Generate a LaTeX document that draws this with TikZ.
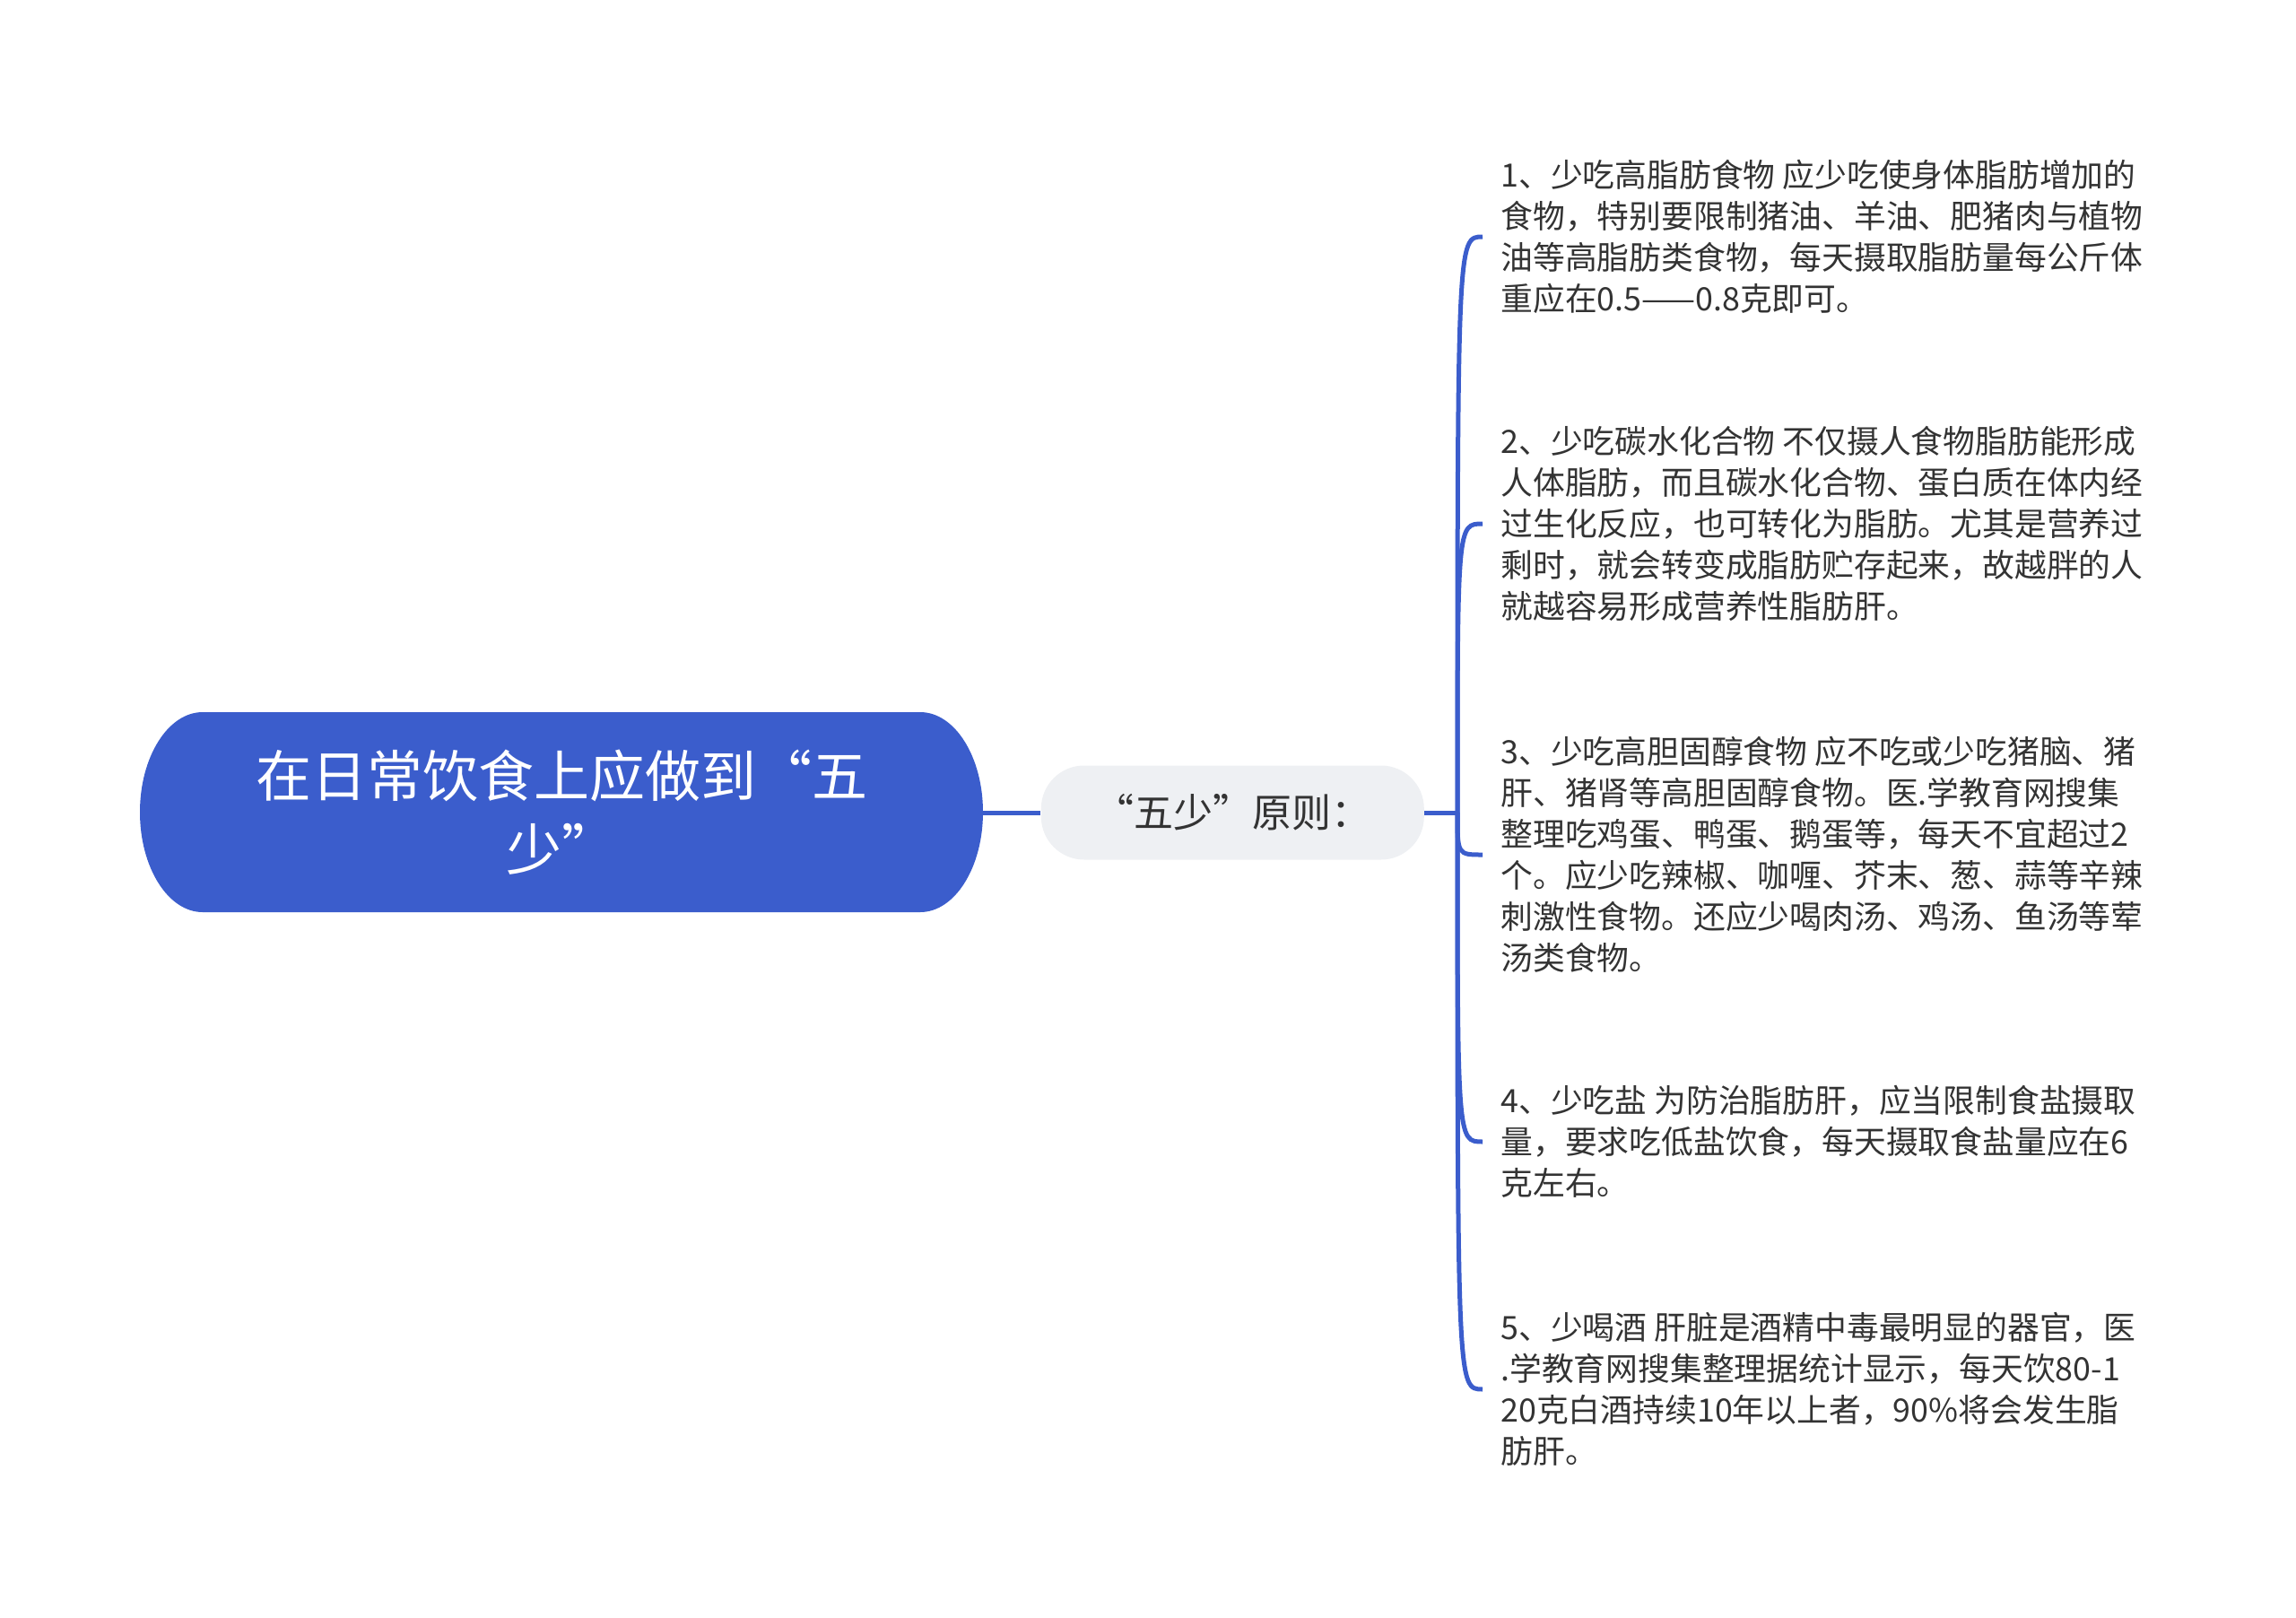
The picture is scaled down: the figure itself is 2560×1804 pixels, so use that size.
\documentclass[tikz,border=0pt]{standalone}
\usepackage{fontspec}
\setmainfont{Noto Sans CJK SC}
\usetikzlibrary{positioning}
\definecolor{rootblue}{RGB}{59,93,204}
\definecolor{midgray}{RGB}{238,240,243}
\definecolor{leaftext}{RGB}{51,51,51}

\begin{document}
\begin{tikzpicture}[x=0.5pt,y=-0.5pt]

  \tikzset{root node/.style={rectangle, text=white, minimum width=470pt,
  		minimum height=111.5pt, align=center, font=\fontsize{31}{41}\selectfont}, }
  \tikzset{mid node/.style={rectangle, fill=midgray, text=leaftext, rounded corners=24pt,
  		minimum width=213.5pt, minimum height=52.5pt, font=\fontsize{22}{28}\selectfont}, }
  \tikzset{leaf node/.style={anchor=west, align=left, text=leaftext, inner xsep=10pt,
  		font=\fontsize{17.9}{23}\selectfont}, }
  \tikzset{linea/.style={draw=rootblue, line width=2.5pt}, }
  \useasboundingbox (0,0) rectangle (2560,1804);
    % root shape, elliptic ends
    \fill[rootblue] (226,794) -- (1026,794) arc[start angle=-90, end angle=90, x radius=70, y radius=111.5]
      -- (226,1017) arc[start angle=90, end angle=270, x radius=70, y radius=111.5] -- cycle;
    \node[root node] (root) at (626,906) {在日常饮食上应做到“五\\少”};
    \node[mid node] (mid) [right =32pt of root] {“五少”原则：};
    \coordinate (trunk) at (1625,906);

    \node[leaf node] (l1) at (1653,264) {1、少吃高脂肪食物 应少吃使身体脂肪增加的\\食物，特别要限制猪油、羊油、肥猪肉与植物\\油等高脂肪类食物，每天摄取脂肪量每公斤体\\重应在0.5——0.8克即可。};
    \node[leaf node] (l2) at (1653,584) {2、少吃碳水化合物 不仅摄人食物脂肪能形成\\人体脂肪，而且碳水化合物、蛋白质在体内经\\过生化反应，也可转化为脂肪。尤其是营养过\\剩时，就会转变成脂肪贮存起来，故越胖的人\\就越容易形成营养性脂肪肝。};
    \node[leaf node] (l3) at (1653,953) {3、少吃高胆固醇食物 应不吃或少吃猪脑、猪\\肝、猪肾等高胆固醇食物。医.学教育网搜集\\整理吃鸡蛋、鸭蛋、鹅蛋等，每天不宜超过2\\个。应少吃辣椒、咖喱、芥末、葱、蒜等辛辣\\刺激性食物。还应少喝肉汤、鸡汤、鱼汤等荤\\汤类食物。};
    \node[leaf node] (l4) at (1653,1273) {4、少吃盐 为防治脂肪肝，应当限制食盐摄取\\量，要求吃低盐饮食，每天摄取食盐量应在6\\克左右。};
    \node[leaf node] (l5) at (1653,1549) {5、少喝酒 肝脏是酒精中毒最明显的器官，医\\.学教育网搜集整理据统计显示，每天饮80-1\\20克白酒持续10年以上者，90\%将会发生脂\\肪肝。};

\path[linea] (root) -- (mid);
\path[linea] (mid) -- (trunk);
\foreach \x in {1,...,5}
  \path[linea] (trunk) .. controls (trunk |- l\x.west) .. (l\x.west);
%%
\end{tikzpicture}
\end{document}
